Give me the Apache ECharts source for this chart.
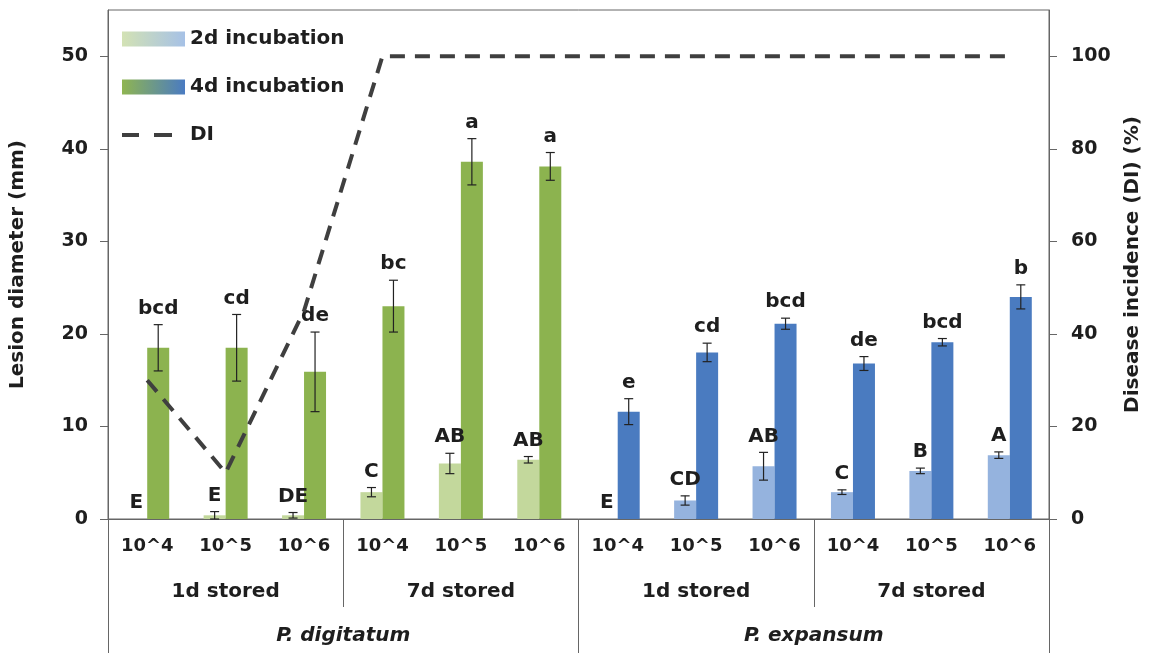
<!DOCTYPE html>
<html>
<head>
<meta charset="utf-8">
<script src="https://cdn.jsdelivr.net/npm/echarts@6/dist/echarts.min.js"></script>
<style>html,body{margin:0;padding:0;background:#fff}#c{width:1151px;height:653px}</style>
</head>
<body>
<div id="c"></div>
<script>
// ---- data ----
const categories = ['10^4','10^5','10^6','10^4','10^5','10^6','10^4','10^5','10^6','10^4','10^5','10^6'];
const storage = ['1d stored','7d stored','1d stored','7d stored'];
const species = ['P. digitatum','P. expansum'];
const lesion2d = [0, 0.4, 0.4, 2.9, 6.0, 6.4, 0, 2.0, 5.7, 2.9, 5.2, 6.9];
const err2d    = [0, 0.4, 0.3, 0.5, 1.1, 0.35, 0, 0.5, 1.5, 0.25, 0.3, 0.35];
const lesion4d = [18.5, 18.5, 15.9, 23.0, 38.6, 38.1, 11.6, 18.0, 21.1, 16.8, 19.1, 24.0];
const err4d    = [2.5, 3.6, 4.3, 2.8, 2.5, 1.5, 1.4, 1.0, 0.6, 0.75, 0.4, 1.3];
const letters2d = ['E','E','DE','C','AB','AB','E','CD','AB','C','B','A'];
const letters4d = ['bcd','cd','de','bc','a','a','e','cd','bcd','de','bcd','b'];
const diValues = [30, 10, 45, 100, 100, 100, 100, 100, 100, 100, 100, 100];
const leftTickValues = [0, 10, 20, 30, 40, 50];
const rightTickValues = [0, 20, 40, 60, 80, 100];
const leftRange = {min: 0, max: 55};
const rightRange = {min: 0, max: 110};

// ---- styles ----
const FONT = 'DejaVu Sans';
const TXT = '#1e1e1e';
const AXIS = '#666666';
const lightCols = ['#c3d89c', '#95b3de'];
const darkCols = ['#8cb34f', '#4a7bc0'];
const DI_COLOR = '#3f3f3f';
const BARW = 22;
const spOf = i => (i < 6 ? 0 : 1);
// legend icon for the dashed DI line: two dashes inside a 63x15 box (tiny corner marks fix the box)
const DASH_ICON = 'path://M0,0h0.01v0.01h-0.01Z M62.99,14.99h0.01v0.01h-0.01Z M0,5.5H17V9.5H0Z M32,5.5H50V9.5H32Z';

const chart = echarts.init(document.getElementById('c'), null, {renderer: 'canvas'});

function errRenderer(offset, letters) {
  return function (params, api) {
    const x = api.value(0), v = api.value(1), e = api.value(2);
    const top = api.coord([x, v + e]);
    const bot = api.coord([x, v - e]);
    const cx = top[0] + offset;
    const kids = [];
    const ls = {stroke: '#222', lineWidth: 1.2};
    if (e > 0) {
      kids.push({type: 'line', shape: {x1: cx, y1: top[1], x2: cx, y2: bot[1]}, style: ls});
      kids.push({type: 'line', shape: {x1: cx - 4.5, y1: top[1], x2: cx + 4.5, y2: top[1]}, style: ls});
      kids.push({type: 'line', shape: {x1: cx - 4.5, y1: bot[1], x2: cx + 4.5, y2: bot[1]}, style: ls});
    }
    kids.push({type: 'text', x: cx, y: top[1] - 6, style: {
      text: letters[params.dataIndex], fill: TXT, font: 'bold 20px "' + FONT + '"',
      align: 'center', verticalAlign: 'bottom'}});
    return {type: 'group', children: kids};
  };
}

const grad = (a, b) => new echarts.graphic.LinearGradient(0, 0, 1, 0, [{offset: 0, color: a}, {offset: 1, color: b}]);

const option = {
  animation: false,
  backgroundColor: '#fff',
  textStyle: {fontFamily: FONT},
  grid: {left: 108, right: 98, top: 10, bottom: 134, show: true, borderColor: AXIS, borderWidth: 1},
  legend: {
    orient: 'vertical', left: 117, top: 24, itemWidth: 63, itemHeight: 15, itemGap: 28,
    textStyle: {fontFamily: FONT, fontSize: 20, fontWeight: 'bold', color: TXT},
    data: [
      {name: '2d incubation', icon: 'rect', itemStyle: {color: grad('#d3e2b4', '#a6c1e6')}},
      {name: '4d incubation', icon: 'rect', itemStyle: {color: grad('#8fb551', '#4a7bc2')}},
      {name: 'DI', icon: DASH_ICON, itemStyle: {color: DI_COLOR, borderWidth: 0}}
    ]
  },
  xAxis: [
    {type: 'category', data: categories, position: 'bottom',
     axisLine: {show: true, lineStyle: {color: AXIS, width: 1}},
     axisTick: {show: false},
     axisLabel: {margin: 18, fontFamily: FONT, fontSize: 18, fontWeight: 'bold', color: TXT, interval: 0}},
    {type: 'category', data: storage, position: 'bottom',
     axisLine: {show: false},
     axisTick: {show: true, length: 88, interval: 0, lineStyle: {color: AXIS, width: 1}},
     axisLabel: {margin: 63, fontFamily: FONT, fontSize: 20, fontWeight: 'bold', color: TXT, interval: 0}},
    {type: 'category', data: species, position: 'bottom',
     axisLine: {show: false},
     axisTick: {show: true, length: 134, interval: 0, lineStyle: {color: AXIS, width: 1}},
     axisLabel: {margin: 107, fontFamily: FONT, fontSize: 20, fontWeight: 'bold', fontStyle: 'italic', color: TXT, interval: 0}}
  ],
  yAxis: [
    {type: 'value', min: leftRange.min, max: leftRange.max, position: 'left',
     name: 'Lesion diameter (mm)', nameLocation: 'middle', nameGap: 80,
     nameTextStyle: {fontFamily: FONT, fontSize: 20, fontWeight: 'bold', color: TXT},
     axisLine: {show: true, lineStyle: {color: AXIS}},
     axisTick: {show: true, length: 8, customValues: leftTickValues, lineStyle: {color: AXIS}},
     axisLabel: {customValues: leftTickValues, margin: 20, fontFamily: FONT, fontSize: 19, fontWeight: 'bold', color: TXT},
     splitLine: {show: false}},
    {type: 'value', min: rightRange.min, max: rightRange.max, position: 'right',
     name: 'Disease incidence (DI) (%)', nameLocation: 'middle', nameGap: 74,
     nameTextStyle: {fontFamily: FONT, fontSize: 20, fontWeight: 'bold', color: TXT},
     axisLine: {show: true, lineStyle: {color: AXIS}},
     axisTick: {show: true, length: 8, customValues: rightTickValues, lineStyle: {color: AXIS}},
     axisLabel: {customValues: rightTickValues, margin: 22, fontFamily: FONT, fontSize: 19, fontWeight: 'bold', color: TXT},
     splitLine: {show: false}}
  ],
  series: [
    {name: '2d incubation', type: 'bar', barWidth: BARW, barGap: '0%', z: 2,
     data: lesion2d.map((v, i) => ({value: v, itemStyle: {color: lightCols[spOf(i)]}}))},
    {name: '4d incubation', type: 'bar', barWidth: BARW, barGap: '0%', z: 2,
     data: lesion4d.map((v, i) => ({value: v, itemStyle: {color: darkCols[spOf(i)]}}))},
    {name: 'err2d', type: 'custom', z: 5, renderItem: errRenderer(-BARW / 2, letters2d),
     encode: {x: 0, y: 1}, data: lesion2d.map((v, i) => [i, v, err2d[i]])},
    {name: 'err4d', type: 'custom', z: 5, renderItem: errRenderer(BARW / 2, letters4d),
     encode: {x: 0, y: 1}, data: lesion4d.map((v, i) => [i, v, err4d[i]])},
    {name: 'DI', type: 'line', yAxisIndex: 1, z: 6, symbol: 'none', showSymbol: false,
     data: diValues, itemStyle: {color: DI_COLOR},
     lineStyle: {color: DI_COLOR, width: 4, type: [15, 10]}}
  ]
};
chart.setOption(option);
</script>
</body>
</html>
